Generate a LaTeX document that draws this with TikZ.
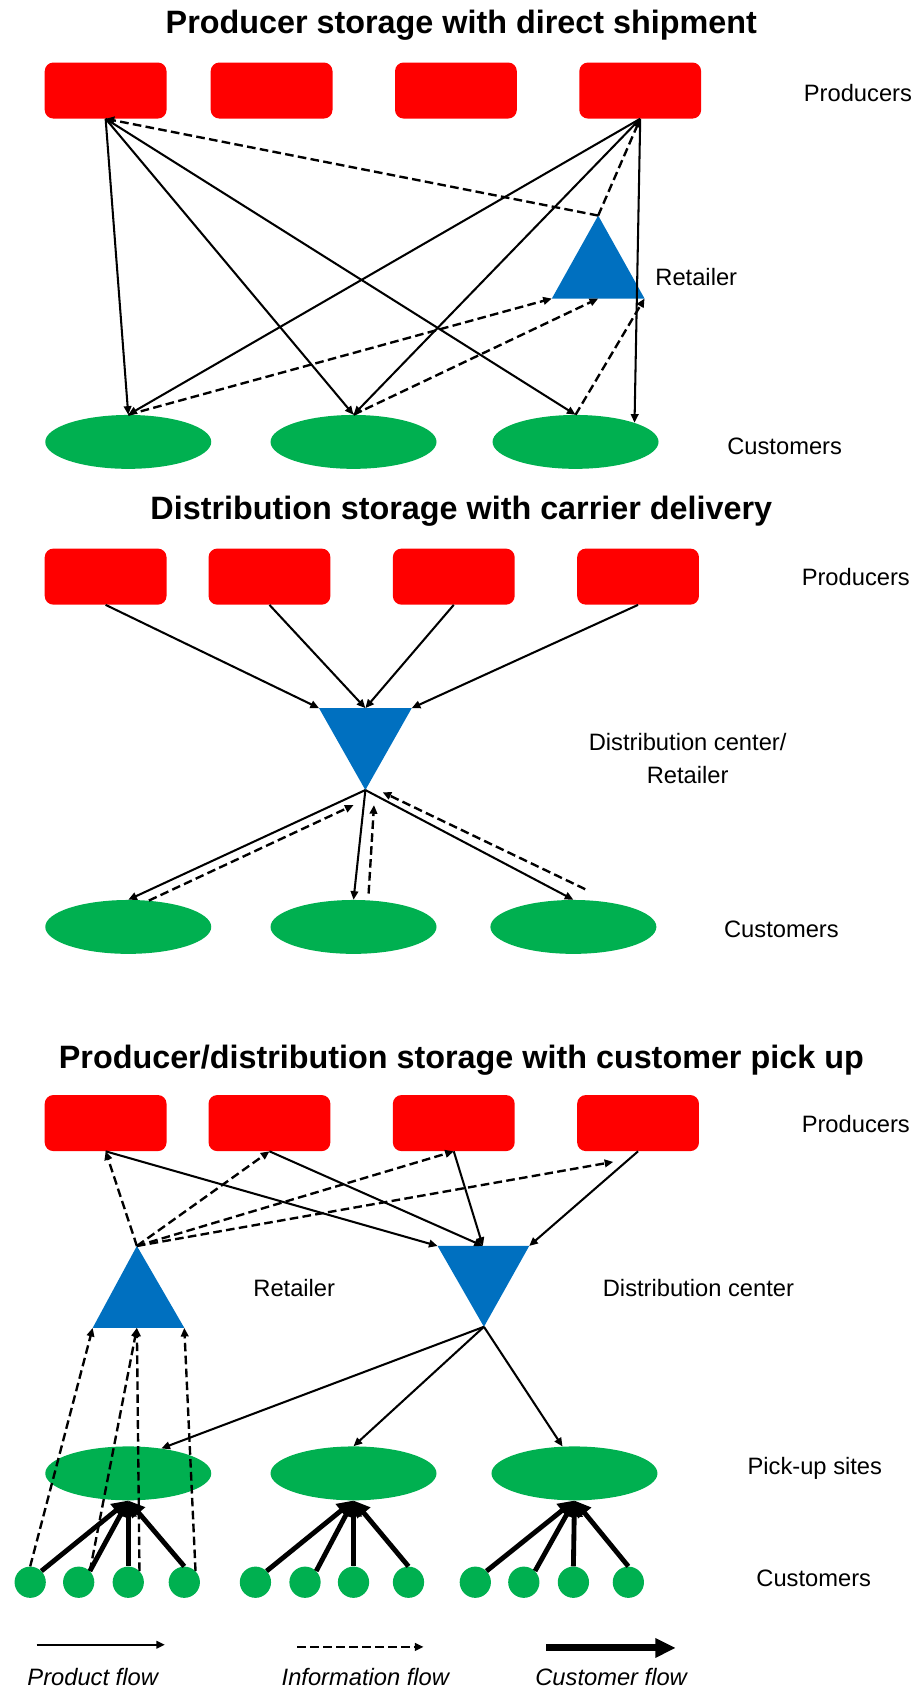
\documentclass[tikz,border=0pt]{standalone}
\usepackage{fontspec}
\setmainfont{Liberation Sans}
\usetikzlibrary{arrows.meta,shapes.geometric,calc}
\definecolor{prodred}{RGB}{255,0,0}
\definecolor{hubblue}{RGB}{0,112,192}
\definecolor{custgreen}{RGB}{0,176,80}

\begin{document}
\begin{tikzpicture}[x=1pt,y=-1pt,
  prod/.style={fill=prodred,rounded corners=8pt,minimum width=113pt,minimum height=52pt,inner sep=0pt},
  cust/.style={ellipse,fill=custgreen,minimum width=154pt,minimum height=50pt,inner sep=0pt},
  dot/.style={circle,fill=custgreen,minimum size=29pt,inner sep=0pt},
  pf/.style={line width=1.9pt,-{Triangle[length=8pt,width=7pt]}},
  inf/.style={pf,line width=2.2pt,dash pattern=on 8pt off 4pt},
  cf/.style={line width=4.5pt,-{Triangle[length=15pt,width=15pt]}},
  ttl/.style={font=\bfseries\fontsize{30}{36}\selectfont,anchor=base},
  lbl/.style={font=\fontsize{22}{31}\selectfont,anchor=base},
  leg/.style={anchor=base,font=\itshape\fontsize{22}{31}\selectfont}]
\useasboundingbox (0,0) rectangle (850,1568);

\node[ttl] (t1) at (428,31) {Producer storage with direct shipment};
\foreach \x [count=\i] in {98,252,423,594} \node[prod] (p1\i) at (\x,84) {};
\node[lbl] (lp1) at (796,94) {Producers};
\foreach \x [count=\i] in {119,328,534} \node[cust] (c1\i) at (\x,410) {};
\node[lbl] (lc1) at (728,422) {Customers};
\coordinate (r1t) at (555,200);
\coordinate (r1l) at (512,277);
\coordinate (r1m) at (555,277);
\coordinate (r1r) at (598,277);
\fill[hubblue] (r1t) -- (r1l) -- (r1r) -- cycle;
\node[lbl] (lr1) at (646,265) {Retailer};
\foreach \j in {c11.north,c12.north,c13.north} \draw[pf] (p11.south) -- (\j);
\foreach \j in {c11.north,c12.north,c13.18} \draw[pf] (p14.south) -- (\j);
\draw[inf] (r1t) -- (p11.south);
\draw[inf] (r1t) -- (p14.south);
\draw[inf] (c11.north) -- (r1l);
\draw[inf] (c12.north) -- (r1m);
\draw[inf] (c13.north) -- (r1r);

\node[ttl] (t2) at (428,482) {Distribution storage with carrier delivery};
\foreach \x [count=\i] in {98,250,421,592} \node[prod] (p2\i) at (\x,535) {};
\node[lbl] (lp2) at (794,543) {Producers};
\coordinate (d2l) at (296,657);
\coordinate (d2m) at (339,657);
\coordinate (d2r) at (382,657);
\coordinate (d2b) at (339,733);
\fill[hubblue] (d2l) -- (d2r) -- (d2b) -- cycle;
\node[lbl,align=center,anchor=center] (ld2) at (638,703.5) {Distribution center/\\Retailer};
\foreach \x [count=\i] in {119,328,532} \node[cust] (c2\i) at (\x,860) {};
\node[lbl] (lc2) at (725,870) {Customers};
\draw[pf] (p21.south) -- (d2l);
\draw[pf] (p22.south) -- (d2m);
\draw[pf] (p23.south) -- (d2m);
\draw[pf] (p24.south) -- (d2r);
\foreach \j in {c21.north,c22.north,c23.north} \draw[pf] (d2b) -- (\j);
\coordinate (i21) at (328,747);
\coordinate (i22) at (347,747);
\coordinate (i23) at (355,735);
\coordinate (o22) at (342,829);
\coordinate (o23) at (543,825);
\draw[inf] (c21.52) -- (i21);
\draw[inf] (o22) -- (i22);
\draw[inf] (o23) -- (i23);

\node[ttl] (t3) at (428,991) {Producer/distribution storage with customer pick up};
\foreach \x [count=\i] in {98,250,421,592} \node[prod] (p3\i) at (\x,1042) {};
\node[lbl] (lp3) at (794,1051) {Producers};
\coordinate (r3t) at (127,1156);
\coordinate (r3l) at (86,1232);
\coordinate (r3m) at (127,1232);
\coordinate (r3r) at (171,1232);
\fill[hubblue] (r3t) -- (r3l) -- (r3r) -- cycle;
\node[lbl] (lr3) at (273,1203) {Retailer};
\coordinate (d3l) at (406,1156);
\coordinate (d3m) at (448,1156);
\coordinate (d3r) at (491,1156);
\coordinate (d3b) at (449,1231);
\fill[hubblue] (d3l) -- (d3r) -- (d3b) -- cycle;
\node[lbl] (ld3) at (648,1203) {Distribution center};
\foreach \x [count=\i] in {119,328,533} \node[cust] (s\i) at (\x,1367) {};
\node[lbl] (ls3) at (756,1368) {Pick-up sites};
\foreach \x [count=\i] in {28,73,119,171,237,283,328,379,441,486,532,583} \node[dot] (u\i) at (\x,1468) {};
\node[lbl] (lc3) at (755,1472) {Customers};
\draw[pf] (p31.south) -- (d3l);
\draw[pf] (p32.south) -- (d3m);
\draw[pf] (p33.south) -- (d3m);
\draw[pf] (p34.south) -- (d3r);
\draw[pf] (d3b) -- (s1.37);
\draw[pf] (d3b) -- (s2.north);
\draw[pf] (d3b) -- (s3.114);
\foreach \j in {p31.south,p32.south,p33.south} \draw[inf] (r3t) -- (\j);
\coordinate (i34) at (569,1078);
\draw[inf] (r3t) -- (i34);
\foreach \u/\s/\a in {1/1/45,2/1/45,3/1/90,4/1/90,5/2/45,6/2/45,7/2/90,8/2/90,9/3/45,10/3/45,11/3/90,12/3/90}
  \draw[cf] (u\u.\a) -- (s\s.south);
\draw[inf] (u1.north) -- (r3l);
\draw[inf] (u2.45) -- (r3m);
\draw[inf] (u3.45) -- (r3m);
\draw[inf] (u4.45) -- (r3r);

\coordinate (g1a) at (34,1526);
\coordinate (g1b) at (153,1526);
\coordinate (g2a) at (276,1528);
\coordinate (g2b) at (393,1528);
\coordinate (g3a) at (507,1529);
\coordinate (g3b) at (627,1529);
\draw[pf] (g1a) -- (g1b);
\draw[inf] (g2a) -- (g2b);
\draw[cf,line width=6.5pt,-{Triangle[length=19pt,width=17pt]}] (g3a) -- (g3b);
\node[leg] (lg1) at (86,1564) {Product flow};
\node[leg] (lg2) at (339,1564) {Information flow};
\node[leg] (lg3) at (567,1564) {Customer flow};
\end{tikzpicture}
\end{document}
